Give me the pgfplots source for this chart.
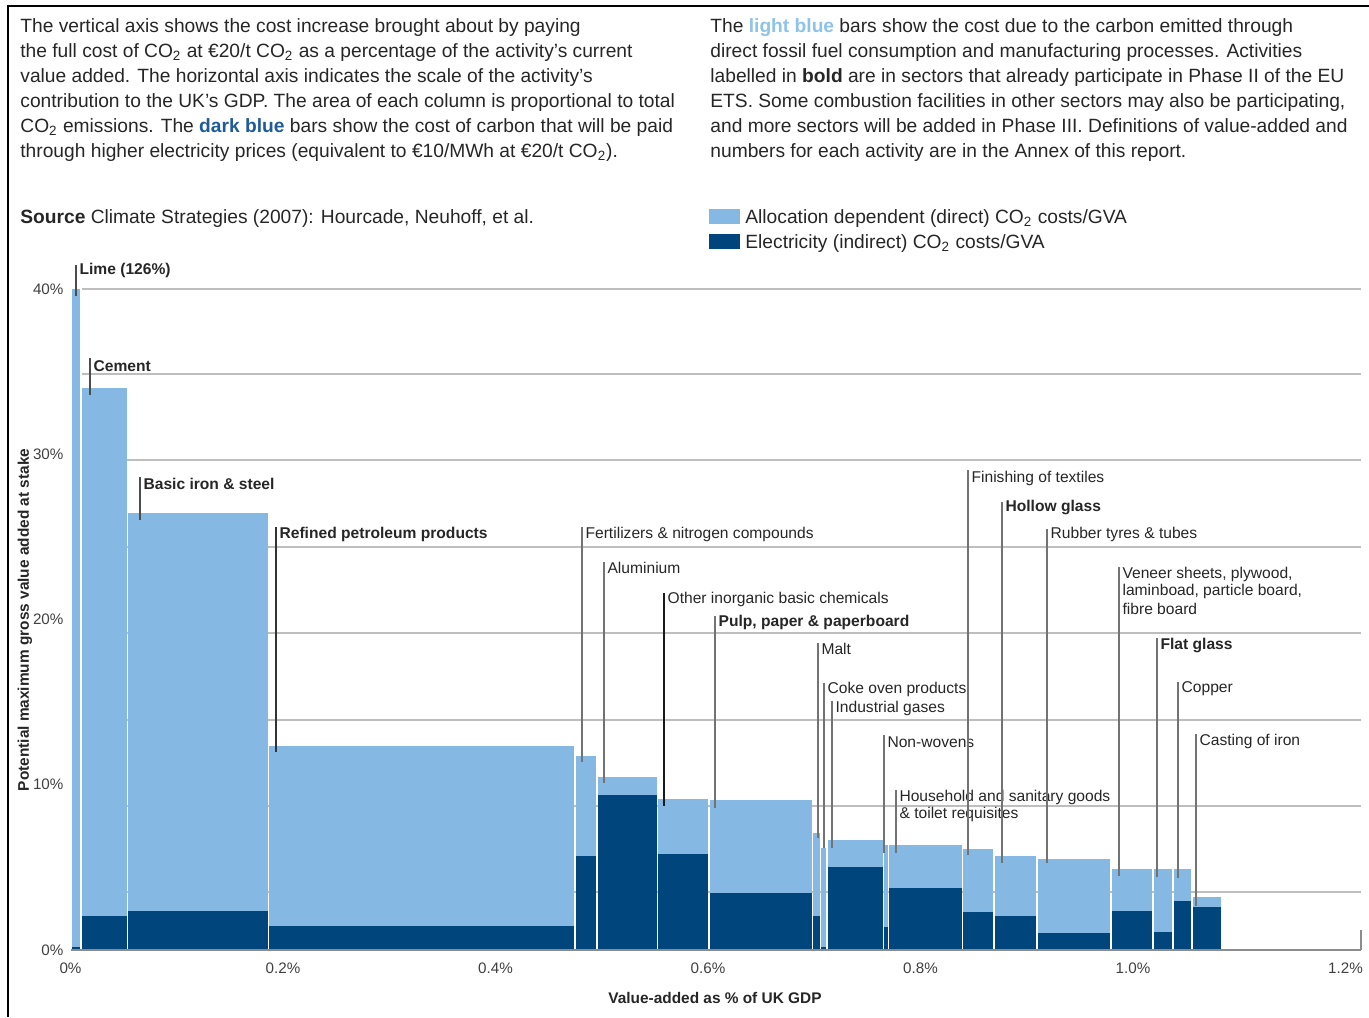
\documentclass[border=0pt]{standalone}
\usepackage{fontspec}
\setmainfont{Liberation Sans}
\usepackage{pgfplots}
\pgfplotsset{compat=1.18}
\definecolor{lblue}{HTML}{85B9E3}
\definecolor{dblue}{HTML}{00457C}
\definecolor{lbtxt}{HTML}{8DC3EA}
\definecolor{dbtxt}{HTML}{1F5B99}
\definecolor{txt}{HTML}{262626}
\definecolor{gridc}{HTML}{BEBEBE}
\tikzset{lbl/.style={anchor=west, inner sep=0pt, xshift=1.6pt, text=txt, font=\fontsize{7.8}{9}\selectfont}}
\newcommand{\bars}[4]{%
  \addplot[fill=lblue, draw=none] coordinates {(#1,0) (#1,#3) (#2,#3) (#2,0)} --cycle;
  \addplot[fill=dblue, draw=none] coordinates {(#1,0) (#1,#4) (#2,#4) (#2,0)} --cycle;
}
\newcommand{\lab}[6][black!55]{%
  \draw[line width=0.65pt, #1] (axis cs:#2,#3) -- (axis cs:#2,#4);
  \node[lbl] at (axis cs:#2,#5) {#6};
}
\newcommand{\labx}[3]{\node[lbl] at (axis cs:#1,#2) {#3};}
\newcommand{\ptext}{\fontsize{9.6}{12.5}\selectfont}
\begin{document}
\begin{tikzpicture}
\useasboundingbox (0,0) rectangle (684.5pt,-508.5pt);
% frame
\draw[line width=1pt, black] (4pt,-508.5pt) -- (4pt,-3pt) -- (684.5pt,-3pt);
\begin{scope}[every node/.style={anchor=base west, inner sep=0pt, text=txt, font=\ptext}]
% left paragraph
\node at (10pt,-16.2pt) {The vertical axis shows the cost increase brought about by paying};
\node at (10pt,-28.7pt) {the full cost of CO\textsubscript{2} at €20/t CO\textsubscript{2} as a percentage of the activity’s current};
\node at (10pt,-41.2pt) {value added. The horizontal axis indicates the scale of the activity’s};
\node at (10pt,-53.7pt) {contribution to the UK’s GDP. The area of each column is proportional to total};
\node at (10pt,-66.2pt) {CO\textsubscript{2} emissions. The \textcolor{dbtxt}{\textbf{dark blue}} bars show the cost of carbon that will be paid};
\node at (10pt,-78.7pt) {through higher electricity prices (equivalent to €10/MWh at €20/t CO\textsubscript{2}).};
\node at (10pt,-111.6pt) {\textbf{Source} Climate Strategies (2007): Hourcade, Neuhoff, et al.};
% right paragraph
\node at (355pt,-16.2pt) {The \textcolor{lbtxt}{\textbf{light blue}} bars show the cost due to the carbon emitted through};
\node at (355pt,-28.7pt) {direct fossil fuel consumption and manufacturing processes. Activities};
\node at (355pt,-41.2pt) {labelled in \textbf{bold} are in sectors that already participate in Phase II of the EU};
\node at (355pt,-53.7pt) {ETS. Some combustion facilities in other sectors may also be participating,};
\node at (355pt,-66.2pt) {and more sectors will be added in Phase III. Definitions of value-added and};
\node at (355pt,-78.7pt) {numbers for each activity are in the Annex of this report.};
% legend
\node at (372.5pt,-111.6pt) {Allocation dependent (direct) CO\textsubscript{2} costs/GVA};
\node at (372.5pt,-124.1pt) {Electricity (indirect) CO\textsubscript{2} costs/GVA};
\end{scope}
\fill[lblue] (354.5pt,-104.5pt) rectangle (370pt,-112pt);
\fill[dblue] (354.5pt,-117pt) rectangle (370pt,-124.5pt);
% axis titles
\node[font=\fontsize{7.7}{9}\selectfont\bfseries, text=txt, rotate=90] at (12.5pt,-310pt) {Potential maximum gross value added at stake};
\node[font=\fontsize{7.7}{9}\selectfont\bfseries, text=txt] at (357.5pt,-499pt) {Value-added as \% of UK GDP};
\begin{axis}[
  at={(35.25pt,-475pt)}, anchor=south west,
  scale only axis, width=645.25pt, height=330.5pt,
  xmin=0, xmax=1.2146, ymin=0, ymax=40,
  clip=false,
  axis line style={draw=none},
  tick style={draw=none},
  xtick={0,0.2,0.4,0.6,0.8,1.0,1.2},
  xticklabels={0\%,0.2\%,0.4\%,0.6\%,0.8\%,1.0\%,1.2\%},
  ytick={0,10,20,30,40},
  yticklabels={0\%,10\%,20\%,30\%,40\%},
  x tick label style={font=\fontsize{7.6}{9}\selectfont, text=black!75, anchor=center, yshift=-9pt},
  y tick label style={font=\fontsize{7.6}{9}\selectfont, text=black!75},
]
% grid lines
\addplot[draw=gridc, line width=0.6pt] coordinates {(0.011,40) (1.2146,40)};
\addplot[draw=gridc, line width=0.6pt] coordinates {(0.011,34.86) (1.2146,34.86)};
\addplot[draw=gridc, line width=0.6pt] coordinates {(0.011,29.65) (1.2146,29.65)};
\addplot[draw=gridc, line width=0.6pt] coordinates {(0.011,24.39) (1.2146,24.39)};
\addplot[draw=gridc, line width=0.6pt] coordinates {(0.011,19.18) (1.2146,19.18)};
\addplot[draw=gridc, line width=0.6pt] coordinates {(0.011,13.92) (1.2146,13.92)};
\addplot[draw=gridc, line width=0.6pt] coordinates {(0.011,8.71) (1.2146,8.71)};
\addplot[draw=gridc, line width=0.6pt] coordinates {(0.011,3.51) (1.2146,3.51)};
% bars: left, right, total (direct+indirect), indirect
\bars{0.0014}{0.0089}{40}{0.2}
\bars{0.0108}{0.0532}{34.0}{2.06}
\bars{0.0541}{0.1859}{26.45}{2.36}
\bars{0.1868}{0.4739}{12.35}{1.45}
\bars{0.4758}{0.4946}{11.74}{5.7}
\bars{0.4965}{0.5520}{10.47}{9.38}
\bars{0.5529}{0.6000}{9.14}{5.81}
\bars{0.6019}{0.6979}{9.08}{3.45}
\bars{0.6988}{0.7054}{7.08}{2.06}
\bars{0.7068}{0.7111}{6.2}{0.2}
\bars{0.7125}{0.7647}{6.66}{5.02}
\bars{0.7656}{0.7694}{6.36}{1.4}
\bars{0.7704}{0.8391}{6.36}{3.75}
\bars{0.8400}{0.8682}{6.1}{2.3}
\bars{0.8701}{0.9087}{5.7}{2.06}
\bars{0.9106}{0.9784}{5.5}{1.0}
\bars{0.9802}{1.0179}{4.9}{2.36}
\bars{1.0198}{1.0367}{4.9}{1.09}
\bars{1.0386}{1.0546}{4.9}{2.97}
\bars{1.0565}{1.0828}{3.2}{2.6}
% axis line
\addplot[draw=black!45, line width=0.6pt] coordinates {(0,0) (1.2146,0)};
\addplot[draw=black!45, line width=0.6pt] coordinates {(1.2146,0) (1.2146,1.2)};
% labels
\lab[black!70]{0.0052}{41.45}{39.58}{41.15}{\textbf{Lime (126\%)}}
\lab[black!70]{0.0184}{35.82}{33.59}{35.34}{\textbf{Cement}}
\lab[black!70]{0.0654}{28.62}{26.02}{28.2}{\textbf{Basic iron \& steel}}
\lab[black!80]{0.1934}{25.6}{11.98}{25.17}{\textbf{Refined petroleum products}}
\lab{0.4814}{25.6}{11.38}{25.17}{Fertilizers \& nitrogen compounds}
\lab{0.5021}{23.48}{10.11}{23.12}{Aluminium}
\lab[black!90]{0.5586}{21.6}{8.71}{21.24}{Other inorganic basic chemicals}
\lab{0.6066}{20.21}{8.59}{19.85}{\textbf{Pulp, paper \& paperboard}}
\lab{0.7035}{18.58}{6.78}{18.21}{Malt}
\lab{0.7092}{16.16}{6.17}{15.79}{Coke oven products}
\lab{0.7167}{15.07}{6.17}{14.64}{Industrial gases}
\lab{0.7656}{13.01}{5.87}{12.59}{Non-wovens}
\lab{0.7769}{9.68}{5.87}{9.26}{Household and sanitary goods}
\labx{0.7769}{8.23}{\& toilet requisites}
\lab{0.8447}{29.05}{5.75}{28.56}{Finishing of textiles}
\lab{0.8767}{27.11}{5.26}{26.75}{\textbf{Hollow glass}}
\lab{0.9191}{25.48}{5.26}{25.17}{Rubber tyres \& tubes}
\lab{0.9868}{23.18}{4.48}{22.75}{Veneer sheets, plywood,}
\labx{0.9868}{21.72}{laminboad, particle board,}
\labx{0.9868}{20.64}{fibre board}
\lab{1.0226}{18.88}{4.42}{18.4}{\textbf{Flat glass}}
\lab{1.0424}{16.22}{4.36}{15.79}{Copper}
\lab{1.0593}{13.07}{2.66}{12.59}{Casting of iron}
\end{axis}
\end{tikzpicture}
\end{document}
